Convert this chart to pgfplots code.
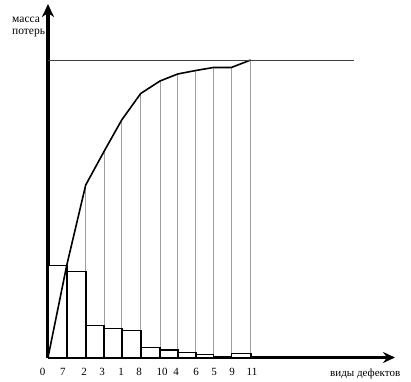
\documentclass[border=0pt]{standalone}
\usepackage{pgfplots}
\pgfplotsset{compat=1.18}
\usepackage{fontspec}
\setmainfont{Liberation Serif}
\usetikzlibrary{arrows.meta}
\begin{document}
\begin{tikzpicture}
\begin{axis}[
  scale only axis, width=347pt, height=353.5pt,
  xmin=0, xmax=347, ymin=0, ymax=353.5,
  enlargelimits=false, clip=false,
  axis lines=left,
  x axis line style={line width=2.6pt, -{Stealth[length=12pt,width=11pt,inset=4pt]}},
  y axis line style={line width=3.2pt, -{Stealth[length=13pt,width=12pt,inset=4pt]}},
  xtick={0,15,36,54,73,91,114,128,148,166,184,204},
  xticklabels={\makebox[0pt][r]{0\hspace{2.5pt}},7,2,3,1,8,10,4,6,5,9,11},
  ytick=\empty,
  major tick length=0pt,
  /pgf/number format/assume math mode=true,
  xticklabel style={anchor=base, yshift=-18pt, font=\fontsize{11}{12}\selectfont},
]
% thin vertical lines from the boundaries up to the cumulative curve
\addplot[ycomb, draw=gray!75, line width=0.8pt, mark=none] coordinates {
  (18.7,92) (37.7,172.5) (56,206) (73.7,237.5) (92.7,264) (112,276.5)
  (129.7,283.5) (147.7,287) (165.3,290) (183.3,290) (202.7,297.5)};
% bars (Pareto)
\addplot[ybar interval, fill=white, draw=black, line width=1.6pt] coordinates {
  (0,92) (18.7,86) (37.7,32) (56,29) (73.7,27) (92.7,10) (112,7.5)
  (129.7,5) (147.7,3) (165.3,0) (183.3,4) (202.7,4)};
% cumulative curve
\addplot[black, line width=1.6pt, mark=none] coordinates {
  (0,0) (18.7,92) (37.7,172.5) (56,206) (73.7,237.5) (92.7,264) (112,276.5)
  (129.7,283.5) (147.7,287) (165.3,290) (183.3,290) (202.7,297.5)};
% total level line
\addplot[black!75, line width=0.7pt, mark=none] coordinates {(0,297.5) (306,297.5)};
\end{axis}
\node[anchor=north west, align=left, inner sep=0pt, font=\fontsize{11.5}{12}\selectfont] at (-36pt,341pt) {масса\\потерь};
\node[anchor=base west, inner sep=0pt, font=\fontsize{11}{12}\selectfont] at (282pt,-18.5pt) {виды дефектов};
\pgfresetboundingbox
\path[use as bounding box] (-48pt,-23.5pt) rectangle (363pt,357.5pt);
\end{tikzpicture}
\end{document}
